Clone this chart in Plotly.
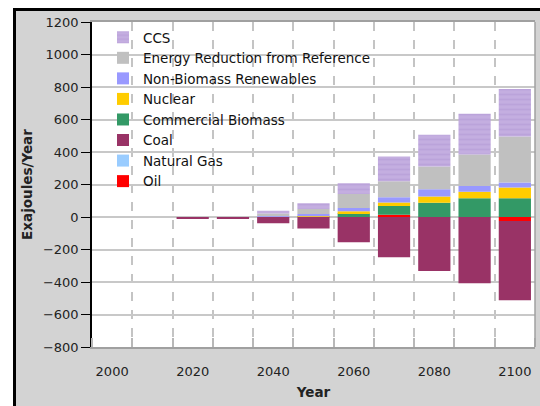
import plotly.graph_objects as go

years = [2000, 2010, 2020, 2030, 2040, 2050, 2060, 2070, 2080, 2090, 2100]
tick_years = [2000, 2020, 2040, 2060, 2080, 2100]

oil = [0, 0, 0, 0, 0, 0, 0, 14, 0, 0, -25]
natural_gas = [0, 0, 0, 0, 0, 0, 0, 0, 0, 0, 0]
coal = [0, 0, -12, -12, -39, -70, -156, -247, -333, -407, -487]
biomass = [0, 0, 0, 0, 0, 2, 23, 53, 88, 115, 115]
nuclear = [0, 0, 0, 0, 0, 2, 12, 23, 38, 41, 66]
renewables = [0, 0, 0, 0, 5, 14, 21, 31, 45, 35, 31]
energy_reduction = [0, 0, 0, 0, 16, 31, 86, 99, 140, 194, 284]
ccs = [0, 0, 0, 0, 18, 35, 66, 152, 195, 251, 292]

series = [
    ("Oil", oil, "#ff0000"),
    ("Natural Gas", natural_gas, "#99ccff"),
    ("Coal", coal, "#993366"),
    ("Commercial Biomass", biomass, "#339966"),
    ("Nuclear", nuclear, "#ffcc00"),
    ("Non-Biomass Renewables", renewables, "#9999ff"),
    ("Energy Reduction from Reference", energy_reduction, "#c0c0c0"),
    ("CCS", ccs, "#c4aee0"),
]

fig = go.Figure()
for name, vals, col in series:
    marker = dict(color=col, line=dict(width=0))
    if name == "CCS":
        marker["pattern"] = dict(shape="-", fgcolor="#b198d4", size=5, solidity=0.35)
    fig.add_trace(go.Bar(x=years, y=vals, name=name, marker=marker))

FONT = "DejaVu Sans, Arial, sans-serif"

# pixel helpers for layout decorations (plot area 92..535 x 22..347)
L, R, T, B = 92, 535, 22, 347
def px(x):
    return (x - L) / (R - L)
def py(y):
    return 1 - (y - T) / (B - T)

def rect(x0, x1, y0, y1, color, layer="below"):
    return dict(type="rect", xref="paper", yref="paper", x0=px(x0), x1=px(x1), y0=py(y1), y1=py(y0),
                fillcolor=color, line=dict(width=0), layer=layer)

shapes = [
    # white outside the frame
    rect(-5, 13, -5, 420, "white"),
    rect(-5, 560, -5, 8, "white"),
    # black frame
    dict(type="rect", xref="paper", yref="paper", x0=px(14.5), x1=px(560), y0=py(420), y1=py(9.5),
         fillcolor="rgba(0,0,0,0)", line=dict(color="black", width=3), layer="below"),
    # legend background covering gridlines
    rect(100, 420, 24, 178, "white", layer="between"),
    # right border of plot area
    dict(type="line", xref="paper", yref="paper", x0=1, x1=1, y0=0, y1=1,
         line=dict(color="#a0a0a0", width=1.5), layer="above"),
]

fig.update_layout(
    width=540, height=406,
    margin=dict(l=L, r=540 - R, t=T, b=406 - B),
    paper_bgcolor="#d3d3d3",
    plot_bgcolor="white",
    barmode="relative",
    bargap=0.2,
    font=dict(family=FONT, size=13, color="#222222"),
    showlegend=True,
    legend=dict(
        x=px(103), y=py(22), xanchor="left", yanchor="top",
        bgcolor="rgba(0,0,0,0)", traceorder="reversed",
        font=dict(family=FONT, size=13.5, color="#111111"),
    ),
    shapes=shapes,
    xaxis=dict(
        range=[1995, 2105],
        tickmode="array", tickvals=tick_years, ticktext=[str(v) for v in tick_years],
        ticks="", ticklabelstandoff=12, showgrid=False, zeroline=False,
        showline=True, linecolor="#a0a0a0", linewidth=1.5, mirror=True,
        tickfont=dict(size=13, color="#222222"),
        title=dict(text="<b>Year</b>", font=dict(size=13.5, color="#222222"), standoff=9),
        minor=dict(tickmode="linear", tick0=2005, dtick=10, ticks="inside", ticklen=9,
                   tickcolor="#b8b8b8", tickwidth=1.5,
                   showgrid=True, gridcolor="#c4c4c4", gridwidth=1.5, griddash="dash"),
    ),
    yaxis=dict(
        range=[-800, 1200], tick0=-800, dtick=200,
        ticks="outside", ticklen=9, tickcolor="black", tickwidth=1.2,
        showline=True, linecolor="black", linewidth=1.5,
        showgrid=True, gridcolor="#c8c8c8", gridwidth=1.5,
        zeroline=False,
        tickfont=dict(size=13, color="#222222"),
        title=dict(text="<b>Exajoules/Year</b>", font=dict(size=13.5, color="#222222"), standoff=7),
    ),
)

fig.write_html("out.html", config={"displayModeBar": False},
               post_script="document.body.style.margin='0';")
